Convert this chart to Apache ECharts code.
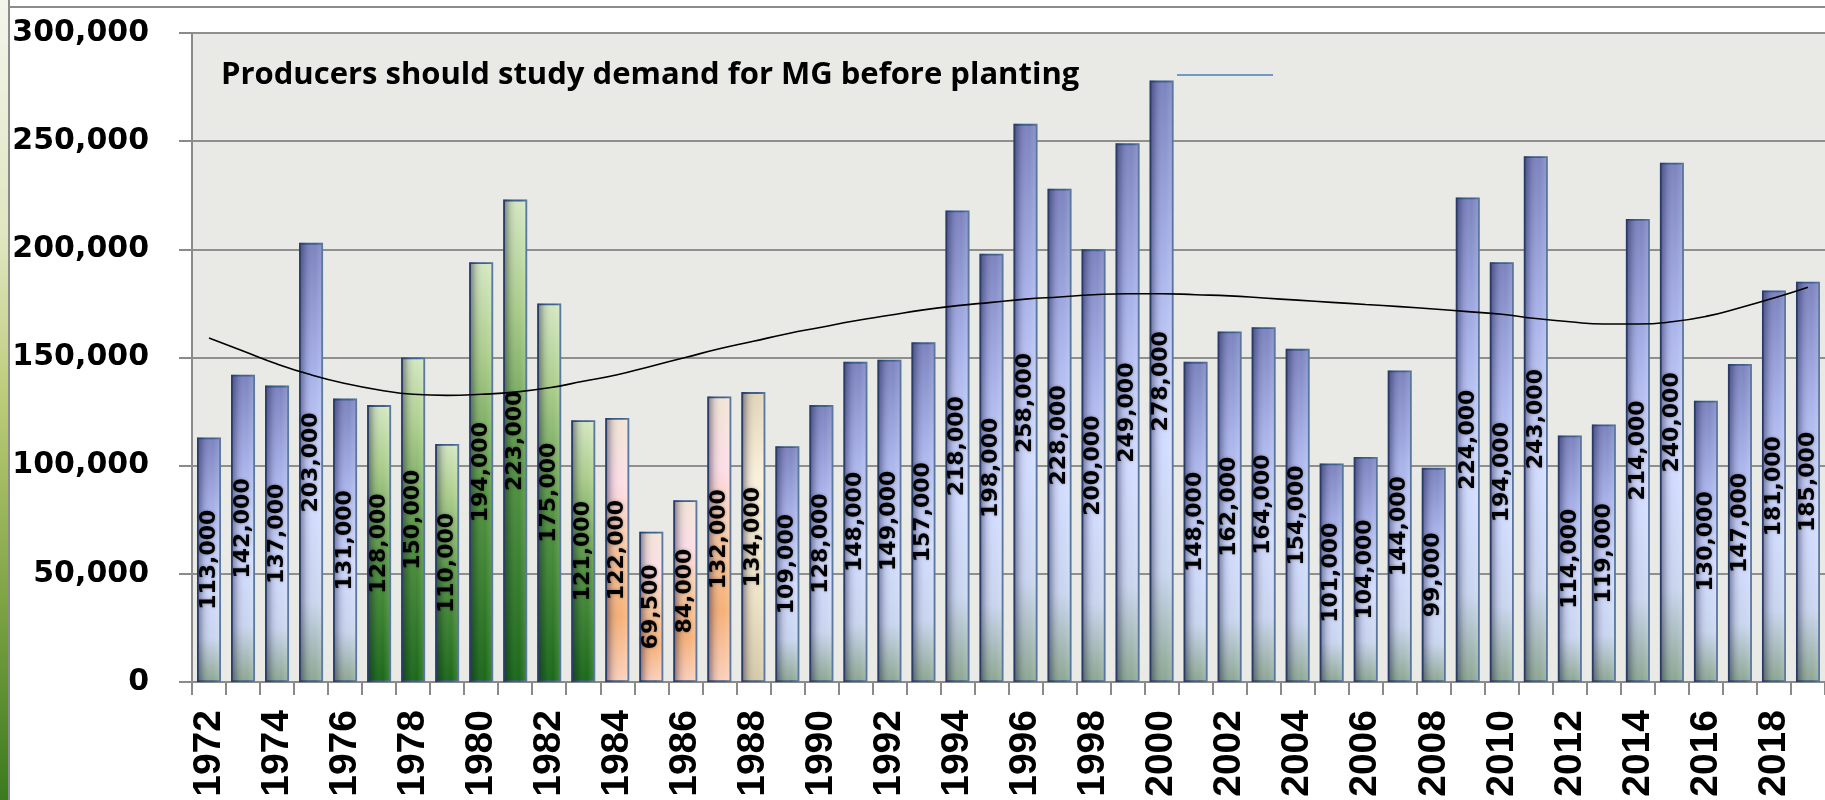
<!DOCTYPE html>
<html>
<head>
<meta charset="utf-8">
<script src="https://cdn.jsdelivr.net/npm/echarts@6/dist/echarts.min.js"></script>
<style>
html,body{margin:0;padding:0;background:#fff;}
#c{width:1825px;height:800px;}
</style>
</head>
<body>
<div id="c"></div>
<script>
var years = ['1972','1973','1974','1975','1976','1977','1978','1979','1980','1981','1982','1983','1984','1985','1986','1987','1988','1989','1990','1991','1992','1993','1994','1995','1996','1997','1998','1999','2000','2001','2002','2003','2004','2005','2006','2007','2008','2009','2010','2011','2012','2013','2014','2015','2016','2017','2018','2019'];
var production = [113000,142000,137000,203000,131000,128000,150000,110000,194000,223000,175000,121000,122000,69500,84000,132000,134000,109000,128000,148000,149000,157000,218000,198000,258000,228000,200000,249000,278000,148000,162000,164000,154000,101000,104000,144000,99000,224000,194000,243000,114000,119000,214000,240000,130000,147000,181000,185000];
var trend = [159000,153000,147000,142000,138000,135000,133000,132500,133000,134000,136000,139000,142000,146000,150000,154000,157500,161000,164000,167000,169500,172000,174000,175500,177000,178000,179000,179500,179500,179000,178500,177500,176500,175500,174500,173500,172400,171200,170000,168000,166500,165500,165500,166500,169000,173000,177500,182500];
var greenYears = ['1977','1978','1979','1980','1981','1982','1983'];
var orangeYears = ['1984','1985','1986','1987'];
var beigeYears = ['1988'];
var yTicks = [0,50000,100000,150000,200000,250000,300000];
var titleText = 'Producers should study demand for MG before planting';

function vgrad(stops){
  return {type:'linear',x:0,y:0,x2:0,y2:1,colorStops:stops.map(function(s){return {offset:s[0],color:s[1]};})};
}
var blueFill = vgrad([[0,'#7c83bf'],[0.3,'#a9b3ea'],[0.6,'#d2dcff'],[0.82,'#c9d5ee'],[1,'#8ca690']]);
var greenFill = vgrad([[0,'#d4e7c2'],[0.22,'#abcd8b'],[0.55,'#559542'],[1,'#1a6818']]);
var orangeFill = vgrad([[0,'#f1e4d4'],[0.25,'#fcdde6'],[0.5,'#f9c8a0'],[0.75,'#f5b078'],[1,'#fbd0bc']]);
var beigeFill = vgrad([[0,'#e0d4b8'],[0.3,'#fbf1da'],[0.7,'#eee3c6'],[1,'#d4c8a8']]);

var barData = production.map(function(v,i){
  var y = years[i];
  var fill = blueFill;
  if (greenYears.indexOf(y) >= 0) fill = greenFill;
  else if (orangeYears.indexOf(y) >= 0) fill = orangeFill;
  else if (beigeYears.indexOf(y) >= 0) fill = beigeFill;
  return {value:v,itemStyle:{color:fill}};
});
var shade = {type:'linear',x:0,y:0,x2:1,y2:0,colorStops:[
  {offset:0,color:'rgba(20,20,60,0.50)'},
  {offset:0.3,color:'rgba(20,20,60,0.12)'},
  {offset:0.65,color:'rgba(255,255,255,0)'},
  {offset:1,color:'rgba(255,255,255,0.18)'}]};

var chart = echarts.init(document.getElementById('c'));
chart.setOption({
  animation:false,
  backgroundColor:'#ffffff',
  grid:{left:192,top:33,bottom:118,width:1642,containLabel:false,show:true,backgroundColor:'#e9e9e6',borderWidth:0},
  xAxis:{
    type:'category',data:years,boundaryGap:true,
    axisLine:{show:true,lineStyle:{color:'#8a8a8a',width:2}},
    axisTick:{show:true,interval:0,length:13,lineStyle:{color:'#8a8a8a',width:2}},
    axisLabel:{interval:1,rotate:90,margin:28,color:'#000',fontFamily:'Liberation Sans',fontWeight:'bold',fontSize:39}
  },
  yAxis:{
    type:'value',min:yTicks[0],max:yTicks[yTicks.length-1],interval:yTicks[1]-yTicks[0],
    axisLine:{show:true,lineStyle:{color:'#8a8a8a',width:2}},
    axisTick:{show:true,length:13,lineStyle:{color:'#8a8a8a',width:2}},
    splitLine:{show:true,lineStyle:{color:'#8f8f8f',width:2}},
    axisLabel:{margin:43,color:'#000',fontFamily:'DejaVu Sans',fontWeight:'bold',fontSize:30,
      formatter:function(v){return v.toLocaleString('en-US');}}
  },
  series:[
    {type:'bar',data:barData,barWidth:24,z:2,
     itemStyle:{borderColor:'#3b5e8c',borderWidth:1.8},label:{show:false}},
    {type:'bar',data:production,barWidth:24,barGap:'-100%',z:3,
     itemStyle:{color:shade},
     label:{show:true,position:'inside',rotate:90,align:'center',verticalAlign:'middle',
       color:'#000',fontFamily:'DejaVu Sans',fontWeight:'bold',fontSize:22,
       textShadowColor:'rgba(0,0,0,0.35)',textShadowBlur:3,
       formatter:function(p){return p.value.toLocaleString('en-US');}}},
    {type:'line',data:trend,smooth:true,symbol:'none',z:5,
     lineStyle:{color:'#000',width:1.6}}
  ],
  graphic:[
    {type:'rect',left:0,top:0,shape:{width:8,height:800},z:10,
     style:{fill:{type:'linear',x:0,y:0,x2:0,y2:1,colorStops:[
       {offset:0,color:'#f3f5ec'},{offset:0.3,color:'#dfe6bf'},{offset:0.5,color:'#bccb78'},{offset:0.75,color:'#7ea444'},{offset:1,color:'#3a7a1e'}]}}},
    {type:'line',z:10,shape:{x1:9,y1:0,x2:9,y2:800},style:{stroke:'#8c8c8c',lineWidth:2}},
    {type:'line',z:10,shape:{x1:9,y1:7,x2:1825,y2:7},style:{stroke:'#8c8c8c',lineWidth:2}},
    {type:'line',z:10,shape:{x1:1177,y1:75,x2:1273,y2:75},style:{stroke:'#4a7ebb',lineWidth:1.5}},
    {type:'text',z:10,x:221,y:75,style:{text:titleText,fill:'#000',font:'bold 31px "Open Sans"',
      textVerticalAlign:'middle',verticalAlign:'middle',shadowColor:'rgba(0,0,0,0.45)',shadowBlur:4,shadowOffsetX:2,shadowOffsetY:2}}
  ]
});
</script>
</body>
</html>
